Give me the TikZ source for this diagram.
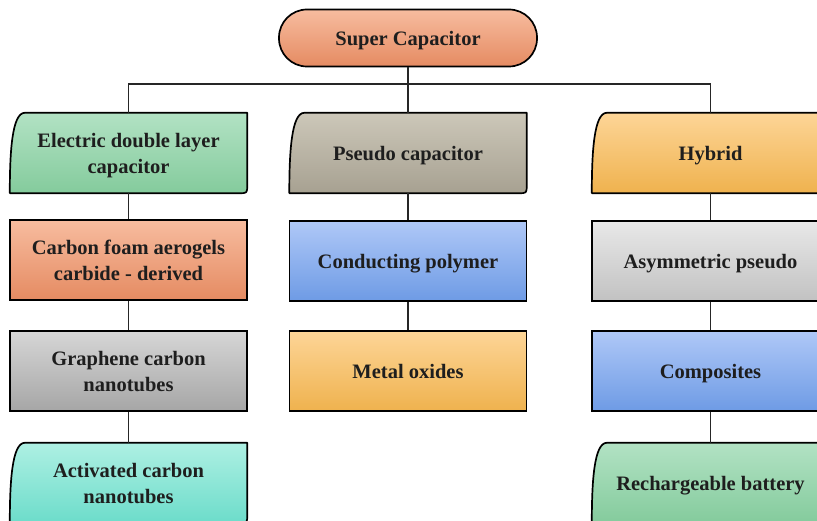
\documentclass[tikz,border=0pt]{standalone}
\usepackage{fontspec}
\setmainfont{Liberation Serif}
\usetikzlibrary{backgrounds}
\definecolor{salmonT}{HTML}{F7BC9F}\definecolor{salmonB}{HTML}{E58B62}
\definecolor{greenT}{HTML}{B2E2C4}\definecolor{greenB}{HTML}{84CB9C}
\definecolor{beigeT}{HTML}{CCC7B9}\definecolor{beigeB}{HTML}{A7A191}
\definecolor{yellowT}{HTML}{FDD597}\definecolor{yellowB}{HTML}{EFB24E}
\definecolor{blueT}{HTML}{AFC8F7}\definecolor{blueB}{HTML}{6E9BE5}
\definecolor{lgreyT}{HTML}{E8E8E8}\definecolor{lgreyB}{HTML}{C2C2C2}
\definecolor{greyT}{HTML}{D6D6D6}\definecolor{greyB}{HTML}{A6A6A6}
\definecolor{tealT}{HTML}{AEF0E3}\definecolor{tealB}{HTML}{6CDCCA}
\definecolor{txt}{HTML}{1E1E1E}
\newcommand\docpath[3]{%
  \path[draw=black, line width=1.7pt, line join=round, top color=#2, bottom color=#3]
  ([xshift=15pt]#1.north west) -- (#1.north east) -- ([yshift=8pt]#1.south east)
  .. controls (#1.south east) .. ([xshift=-8pt]#1.south east) -- (#1.south west)
  .. controls ([yshift=40pt]#1.south west) and ([xshift=2pt]#1.north west) .. ([xshift=15pt]#1.north west) -- cycle;}
\newcommand\lowtxt[1]{\raisebox{-2.5pt}[\height][\depth]{\begin{tabular}{@{}c@{}}#1\end{tabular}}}
\tikzset{
  box/.style={minimum width=237pt, minimum height=80pt, align=center, inner sep=0pt,
    font=\bfseries\fontsize{20.5}{26}\selectfont, text=txt},
  rbox/.style n args={2}{box, draw=black, line width=1.7pt, top color=#1, bottom color=#2},
  conn/.style={draw=black!85, line width=1.6pt}
}
\begin{document}
\begin{tikzpicture}[x=1pt,y=1pt]
\useasboundingbox (0,0) rectangle (817,520);
% top
\node[box, minimum width=258pt, minimum height=57pt, draw=black, line width=1.7pt,
  rounded corners=28pt, top color=salmonT, bottom color=salmonB] (sc) at (408,482) {\lowtxt{Super Capacitor}};
% row 1
\node[box] (edl) at (128.5,367) {\lowtxt{Electric double layer\\capacitor}};
\node[box] (pc) at (408,367) {\lowtxt{Pseudo capacitor}};
\node[box] (hy) at (710.5,367) {\lowtxt{Hybrid}};
% row 2
\node[rbox={salmonT}{salmonB}] (cf) at (128.5,260) {\lowtxt{Carbon foam aerogels\\carbide - derived}};
\node[rbox={blueT}{blueB}] (cp) at (408,259) {\lowtxt{Conducting polymer}};
\node[rbox={lgreyT}{lgreyB}] (as) at (710.5,259) {\lowtxt{Asymmetric pseudo}};
% row 3
\node[rbox={greyT}{greyB}] (gc) at (128.5,149) {\lowtxt{Graphene carbon\\nanotubes}};
\node[rbox={yellowT}{yellowB}] (mo) at (408,149) {\lowtxt{Metal oxides}};
\node[rbox={blueT}{blueB}] (cm) at (710.5,149) {\lowtxt{Composites}};
% row 4
\node[box] (ac) at (128.5,37) {\lowtxt{Activated carbon\\nanotubes}};
\node[box] (rb) at (710.5,37) {\lowtxt{Rechargeable battery}};
\begin{scope}[on background layer]
  \docpath{edl}{greenT}{greenB}
  \docpath{pc}{beigeT}{beigeB}
  \docpath{hy}{yellowT}{yellowB}
  \docpath{ac}{tealT}{tealB}
  \docpath{rb}{greenT}{greenB}
\end{scope}
% connectors
\coordinate (bus) at (408,436);
\draw[conn] (sc.south) -- (pc.north);
\draw[conn] (edl.north) |- (bus);
\draw[conn] (hy.north) |- (bus);
\draw[conn] (edl.south) -- (cf.north);
\draw[conn] (cf.south) -- (gc.north);
\draw[conn] (gc.south) -- (ac.north);
\draw[conn] (pc.south) -- (cp.north);
\draw[conn] (cp.south) -- (mo.north);
\draw[conn] (hy.south) -- (as.north);
\draw[conn] (as.south) -- (cm.north);
\draw[conn] (cm.south) -- (rb.north);
\end{tikzpicture}
\end{document}
